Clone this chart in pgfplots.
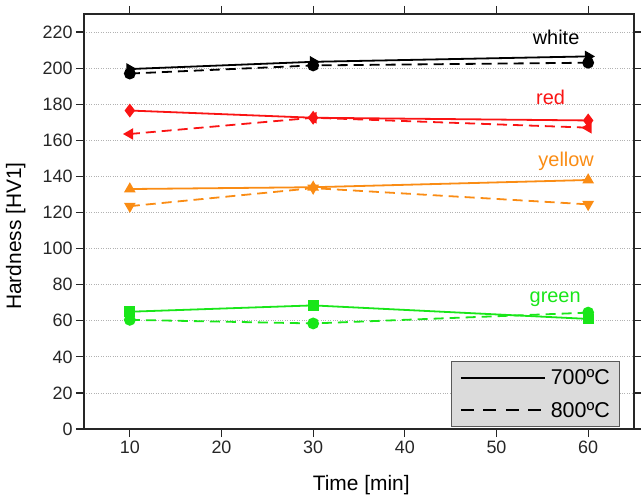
\documentclass[border=0pt]{standalone}
\usepackage{pgfplots}
\pgfplotsset{compat=1.18}
\usepackage{fontspec}
\setmainfont{Liberation Sans}
\definecolor{cred}{RGB}{250,20,20}
\definecolor{corange}{RGB}{250,140,20}
\definecolor{cgreen}{RGB}{25,230,25}
\begin{document}
\begin{tikzpicture}
\useasboundingbox (-84bp,-69bp) rectangle (557bp,429bp);
\begin{axis}[
  scale only axis,
  width=550bp, height=415bp,
  xmin=5, xmax=65, ymin=0, ymax=230,
  xtick={10,20,30,40,50,60},
  ytick={0,20,...,220},
  tick align=outside,
  major tick length=8bp,
  tick style={line width=1.2pt, black!85},
  axis line style={line width=1.4pt, black!85},
  xticklabel pos=lower, yticklabel pos=left,
  xtick pos=both, ytick pos=both,
  /pgf/number format/assume math mode=true,
  ticklabel style={font=\fontsize{18}{20}\selectfont, text=black!85},
  ymajorgrids,
  grid style={dotted, line width=0.8pt, black!30},
  xlabel={Time [min]}, ylabel={Hardness [HV1]},
  label style={font=\fontsize{21}{24}\selectfont},
  xlabel style={at={(axis description cs:0.504,-0.135)}, anchor=center},
  ylabel style={at={(axis description cs:-0.124,0.465)}, anchor=center, rotate=0},
  legend style={at={(rel axis cs:0.975,0.005)}, anchor=south east,
    fill=black!14, draw=black!65, line width=0.8pt,
    font=\fontsize{21.5}{24}\selectfont, row sep=12bp,
    inner xsep=8bp, inner ysep=6bp,
    /tikz/every odd column/.style={column sep=3bp},
    /tikz/every even column/.style={column sep=14bp}},
  legend cell align=left,
  legend image code/.code={\draw[#1, line width=2bp] (0bp,0bp) -- (84bp,0bp);},
  every axis plot/.append style={line width=1.8bp, mark size=5bp},
  clip=false,
]
\addlegendimage{black, solid}
\addlegendentry{700ºC}
\addlegendimage{black, dash pattern=on 13bp off 9.5bp}
\addlegendentry{800ºC}
% white
\addplot[black, mark=triangle*, mark options={rotate=-90, solid}, forget plot]
  coordinates {(10,199.5) (30,203.5) (60,206.5)};
\addplot[black, dash pattern=on 10bp off 6bp, mark=*, mark options={solid}, forget plot]
  coordinates {(10,197) (30,201.5) (60,203)};
% red
\addplot[cred, mark=diamond*, mark options={solid, scale=1.1}, forget plot]
  coordinates {(10,176.5) (30,172.5) (60,171)};
\addplot[cred, dash pattern=on 10bp off 6bp, mark=triangle*, mark options={rotate=90, solid}, forget plot]
  coordinates {(10,163.5) (30,172.5) (60,167)};
% yellow
\addplot[corange, mark=triangle*, mark options={solid}, forget plot]
  coordinates {(10,133) (30,134) (60,138)};
\addplot[corange, dash pattern=on 10bp off 6bp, mark=triangle*, mark options={rotate=180, solid}, forget plot]
  coordinates {(10,123.5) (30,133.5) (60,124.5)};
% green
\addplot[cgreen, mark=square*, mark options={solid, scale=0.9}, forget plot]
  coordinates {(10,65) (30,68.5) (60,61)};
\addplot[cgreen, dash pattern=on 10bp off 6bp, mark=*, mark options={solid}, forget plot]
  coordinates {(10,60.5) (30,58.5) (60,64.5)};
\node[font=\fontsize{20}{22}\selectfont, text=black] at (axis cs:56.5,217) {white};
\node[font=\fontsize{20}{22}\selectfont, text=cred] at (axis cs:55.9,184) {red};
\node[font=\fontsize{20}{22}\selectfont, text=corange] at (axis cs:57.6,148.5) {yellow};
\node[font=\fontsize{20}{22}\selectfont, text=cgreen] at (axis cs:56.4,72) {green};
\end{axis}
\end{tikzpicture}
\end{document}
